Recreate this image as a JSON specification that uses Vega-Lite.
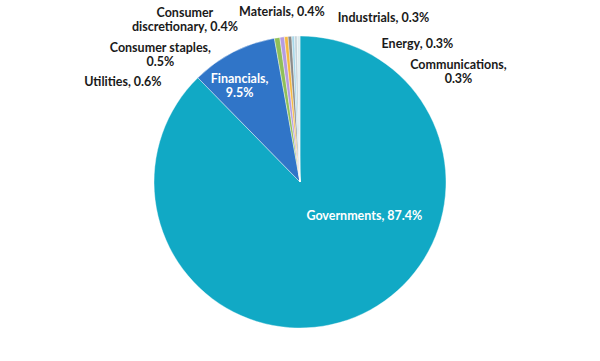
{
  "$schema": "https://vega.github.io/schema/vega-lite/v6.json",
  "width": 600,
  "height": 364,
  "autosize": "none",
  "padding": 0,
  "background": "white",
  "config": {"view": {"stroke": null}},
  "data": {
    "values": [
      {"sector": "Governments", "share": 87.4, "rank": 1, "label": "Governments, 87.4%"},
      {"sector": "Financials", "share": 9.5, "rank": 2, "label": "Financials,\n9.5%"},
      {"sector": "Utilities", "share": 0.6, "rank": 3, "label": "Utilities, 0.6%"},
      {"sector": "Consumer staples", "share": 0.5, "rank": 4, "label": "Consumer staples,\n0.5%"},
      {"sector": "Consumer discretionary", "share": 0.4, "rank": 5, "label": "Consumer\ndiscretionary, 0.4%"},
      {"sector": "Materials", "share": 0.4, "rank": 6, "label": "Materials, 0.4%"},
      {"sector": "Industrials", "share": 0.3, "rank": 7, "label": "Industrials, 0.3%"},
      {"sector": "Energy", "share": 0.3, "rank": 8, "label": "Energy, 0.3%"},
      {"sector": "Communications", "share": 0.3, "rank": 9, "label": "Communications,\n0.3%"}
    ]
  },
  "encoding": {
    "theta": {"field": "share", "type": "quantitative", "stack": true},
    "order": {"field": "rank", "type": "quantitative", "sort": "ascending"}
  },
  "layer": [
    {
      "mark": {"type": "arc", "outerRadius": 146, "stroke": "white", "strokeWidth": 0.4},
      "encoding": {
        "color": {
          "field": "sector", "type": "nominal", "legend": null,
          "scale": {
            "domain": ["Governments", "Financials", "Utilities", "Consumer staples", "Consumer discretionary", "Materials", "Industrials", "Energy", "Communications"],
            "range": ["#11a9c5", "#3075c8", "#8fbf5a", "#b49ce0", "#f5b940", "#8a8a8a", "#a8d8ea", "#c5d3da", "#dcecef"]
          }
        }
      }
    },
    {
      "mark": {"type": "text", "radius": 75, "dx": 36, "dy": -35, "font": "Lato", "fontWeight": "bold", "fontSize": 12.5, "fill": "white", "align": "center", "baseline": "middle", "lineBreak": "\n", "lineHeight": 14},
      "encoding": {"text": {"condition": {"test": "datum.sector === 'Governments'", "field": "label"}, "value": ""}}
    },
    {
      "mark": {"type": "text", "radius": 110, "dx": -10, "dy": -5, "font": "Lato", "fontWeight": "bold", "fontSize": 12.5, "fill": "white", "align": "center", "baseline": "middle", "lineBreak": "\n", "lineHeight": 14},
      "encoding": {"text": {"condition": {"test": "datum.sector === 'Financials'", "field": "label"}, "value": ""}}
    },
    {
      "mark": {"type": "text", "radius": 160, "dx": -152, "dy": 58, "font": "Lato", "fontWeight": "bold", "fontSize": 12.5, "fill": "#1a1a1a", "align": "center", "baseline": "middle", "lineBreak": "\n", "lineHeight": 14},
      "encoding": {"text": {"condition": {"test": "datum.sector === 'Utilities'", "field": "label"}, "value": ""}}
    },
    {
      "mark": {"type": "text", "radius": 160, "dx": -120, "dy": 25, "font": "Lato", "fontWeight": "bold", "fontSize": 12.5, "fill": "#1a1a1a", "align": "center", "baseline": "middle", "lineBreak": "\n", "lineHeight": 14},
      "encoding": {"text": {"condition": {"test": "datum.sector === 'Consumer staples'", "field": "label"}, "value": ""}}
    },
    {
      "mark": {"type": "text", "radius": 160, "dx": -100, "dy": -10, "font": "Lato", "fontWeight": "bold", "fontSize": 12.5, "fill": "#1a1a1a", "align": "center", "baseline": "middle", "lineBreak": "\n", "lineHeight": 14},
      "encoding": {"text": {"condition": {"test": "datum.sector === 'Consumer discretionary'", "field": "label"}, "value": ""}}
    },
    {
      "mark": {"type": "text", "radius": 160, "dx": -7, "dy": -10, "font": "Lato", "fontWeight": "bold", "fontSize": 12.5, "fill": "#1a1a1a", "align": "center", "baseline": "middle", "lineBreak": "\n", "lineHeight": 14},
      "encoding": {"text": {"condition": {"test": "datum.sector === 'Materials'", "field": "label"}, "value": ""}}
    },
    {
      "mark": {"type": "text", "radius": 160, "dx": 91, "dy": -4, "font": "Lato", "fontWeight": "bold", "fontSize": 12.5, "fill": "#1a1a1a", "align": "center", "baseline": "middle", "lineBreak": "\n", "lineHeight": 14},
      "encoding": {"text": {"condition": {"test": "datum.sector === 'Industrials'", "field": "label"}, "value": ""}}
    },
    {
      "mark": {"type": "text", "radius": 160, "dx": 122, "dy": 22, "font": "Lato", "fontWeight": "bold", "fontSize": 12.5, "fill": "#1a1a1a", "align": "center", "baseline": "middle", "lineBreak": "\n", "lineHeight": 14},
      "encoding": {"text": {"condition": {"test": "datum.sector === 'Energy'", "field": "label"}, "value": ""}}
    },
    {
      "mark": {"type": "text", "radius": 160, "dx": 160, "dy": 43, "font": "Lato", "fontWeight": "bold", "fontSize": 12.5, "fill": "#1a1a1a", "align": "center", "baseline": "middle", "lineBreak": "\n", "lineHeight": 14},
      "encoding": {"text": {"condition": {"test": "datum.sector === 'Communications'", "field": "label"}, "value": ""}}
    }
  ]
}
